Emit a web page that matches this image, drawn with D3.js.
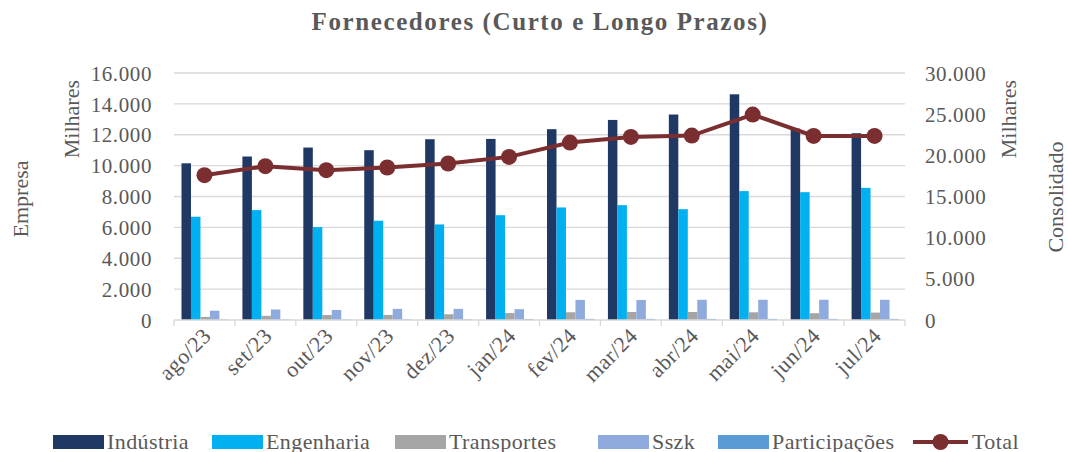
<!DOCTYPE html>
<html>
<head>
<meta charset="utf-8">
<script src="https://cdn.jsdelivr.net/npm/d3@7"></script>
<style>
  body { margin: 0; background: #fff; }
  svg { display: block; font-family: "Liberation Serif", "Times New Roman", serif; }
  .grid line { stroke: #d9d9d9; stroke-width: 1.3; }
  .tick text { fill: #595959; }
</style>
</head>
<body>
<svg id="chart" width="1068" height="452"></svg>
<script>
// Chart data
var months = ["ago/23", "set/23", "out/23", "nov/23", "dez/23", "jan/24",
              "fev/24", "mar/24", "abr/24", "mai/24", "jun/24", "jul/24"];
var industria     = [10150, 10590, 11170, 11000, 11710, 11730, 12360, 12960, 13310, 14620, 12400, 12100];
var engenharia    = [6690, 7120, 6020, 6430, 6190, 6790, 7290, 7440, 7180, 8350, 8280, 8560];
var transportes   = [200, 270, 320, 330, 370, 450, 500, 520, 520, 500, 440, 480];
var sszk          = [600, 680, 650, 720, 720, 700, 1300, 1300, 1310, 1310, 1310, 1310];
var participacoes = [30, 30, 30, 40, 40, 60, 70, 70, 70, 70, 70, 70];
var total         = [17590, 18680, 18200, 18520, 19010, 19810, 21550, 22240, 22400, 24950, 22360, 22360];
var leftTicks  = [0, 2000, 4000, 6000, 8000, 10000, 12000, 14000, 16000];
var rightTicks = [0, 5000, 10000, 15000, 20000, 25000, 30000];

var series = [
    {name: "Indústria", values: industria, color: "#203864"},
    {name: "Engenharia", values: engenharia, color: "#00b0f0"},
    {name: "Transportes", values: transportes, color: "#a5a5a5"},
    {name: "Sszk", values: sszk, color: "#8faadc"},
    {name: "Participações", values: participacoes, color: "#5b9bd5"}
];
var lineColor = "#7b2e30";
var textColor = "#595959";
var serif = "'Liberation Serif', 'Times New Roman', serif";

// Plot area
var plotLeft = 174, plotRight = 905, plotTop = 73, plotBottom = 320;

var svg = d3.select("#chart");

// Brazilian number format
var locale = d3.formatLocale({decimal: ",", thousands: ".", grouping: [3], currency: ["R$", ""]});
var fmt = locale.format(",.0f");

// Scales
var x0 = d3.scaleBand().domain(months).range([plotLeft, plotRight]);
var x1 = d3.scaleBand().domain(series.map(function(s) { return s.name; }))
    .range([7.5, x0.bandwidth() - 6]);
var y = d3.scaleLinear().domain([0, 16000]).range([plotBottom, plotTop]);
var y2 = d3.scaleLinear().domain([0, 30000]).range([plotBottom, plotTop]);

// Gridlines
svg.append("g")
    .attr("class", "grid")
    .selectAll("line")
    .data(leftTicks.slice(1))
    .enter()
    .append("line")
    .attr("x1", plotLeft)
    .attr("x2", plotRight)
    .attr("y1", function(d) { return y(d); })
    .attr("y2", function(d) { return y(d); });

// Left axis
var yAxis = d3.axisLeft(y).tickValues(leftTicks).tickFormat(fmt).tickSize(0).tickPadding(22);
var gy = svg.append("g")
    .attr("transform", "translate(" + plotLeft + ",0)")
    .call(yAxis)
    .attr("font-family", serif);
gy.select(".domain").remove();
gy.selectAll("text").style("font-size", "21px").style("letter-spacing", "0.6px").attr("dy", "0.34em");

// Right axis
var yAxis2 = d3.axisRight(y2).tickValues(rightTicks).tickFormat(fmt).tickSize(0).tickPadding(20);
var gy2 = svg.append("g")
    .attr("transform", "translate(" + plotRight + ",0)")
    .call(yAxis2)
    .attr("font-family", serif);
gy2.select(".domain").remove();
gy2.selectAll("text").style("font-size", "21px").style("letter-spacing", "0.6px").attr("dy", "0.34em");

// Bars
var groups = svg.append("g")
    .selectAll("g")
    .data(months)
    .enter()
    .append("g")
    .attr("transform", function(d) { return "translate(" + x0(d) + ",0)"; });

groups.selectAll("rect")
    .data(function(d, i) {
        return series.map(function(s) { return {name: s.name, value: s.values[i], color: s.color}; });
    })
    .enter()
    .append("rect")
    .attr("x", function(d) { return x1(d.name); })
    .attr("width", x1.bandwidth())
    .attr("y", function(d) { return y(d.value); })
    .attr("height", function(d) { return plotBottom - y(d.value); })
    .attr("fill", function(d) { return d.color; });

// X axis line and category separators
var xAxis = svg.append("g").attr("class", "grid");
xAxis.append("line")
    .attr("x1", plotLeft).attr("x2", plotRight)
    .attr("y1", plotBottom).attr("y2", plotBottom);
xAxis.selectAll(".sep")
    .data(d3.range(months.length + 1))
    .enter()
    .append("line")
    .attr("x1", function(i) { return plotLeft + i * x0.step(); })
    .attr("x2", function(i) { return plotLeft + i * x0.step(); })
    .attr("y1", plotBottom)
    .attr("y2", plotBottom + 6);

// X labels
svg.append("g")
    .selectAll("text")
    .data(months)
    .enter()
    .append("text")
    .attr("transform", function(d) {
        return "translate(" + (x0(d) + x0.bandwidth() / 2 + 8) + "," + (plotBottom + 17) + ") rotate(-45)";
    })
    .attr("text-anchor", "end")
    .attr("fill", textColor)
    .style("font-size", "22px")
    .style("letter-spacing", "0.5px")
    .text(function(d) { return d; });

// Total line
var line = d3.line()
    .x(function(d, i) { return x0(months[i]) + x0.bandwidth() / 2; })
    .y(function(d) { return y2(d); });

svg.append("path")
    .datum(total)
    .attr("d", line)
    .attr("fill", "none")
    .attr("stroke", lineColor)
    .attr("stroke-width", 4);

svg.append("g")
    .selectAll("circle")
    .data(total)
    .enter()
    .append("circle")
    .attr("cx", function(d, i) { return x0(months[i]) + x0.bandwidth() / 2; })
    .attr("cy", function(d) { return y2(d); })
    .attr("r", 8)
    .attr("fill", lineColor);

// Title
svg.append("text")
    .attr("x", 540)
    .attr("y", 30)
    .attr("text-anchor", "middle")
    .attr("fill", textColor)
    .style("font-size", "25px")
    .style("font-weight", "bold")
    .style("letter-spacing", "1.6px")
    .text("Fornecedores (Curto e Longo Prazos)");

// Axis titles
function vText(xp, yp, anchor, txt) {
    svg.append("text")
        .attr("transform", "translate(" + xp + "," + yp + ") rotate(-90)")
        .attr("text-anchor", anchor)
        .attr("fill", textColor)
        .style("font-size", "22px")
        .text(txt);
}
vText(79, 80, "end", "Milhares");
vText(28, 199, "middle", "Empresa");
vText(1016, 80, "end", "Milhares");
vText(1063, 197, "middle", "Consolidado");

// Legend
var legendX = [53, 212, 395, 598, 718];
var legend = svg.append("g");
series.forEach(function(s, i) {
    legend.append("rect")
        .attr("x", legendX[i])
        .attr("y", 435)
        .attr("width", 51)
        .attr("height", 14)
        .attr("fill", s.color);
    legend.append("text")
        .attr("x", legendX[i] + 54)
        .attr("y", 449)
        .attr("fill", textColor)
        .style("font-size", "22px")
        .style("letter-spacing", "0.4px")
        .text(s.name);
});
legend.append("line")
    .attr("x1", 913).attr("x2", 968)
    .attr("y1", 442).attr("y2", 442)
    .attr("stroke", lineColor)
    .attr("stroke-width", 4);
legend.append("circle")
    .attr("cx", 940.5).attr("cy", 442).attr("r", 8)
    .attr("fill", lineColor);
legend.append("text")
    .attr("x", 972)
    .attr("y", 449)
    .attr("fill", textColor)
    .style("font-size", "22px")
    .style("letter-spacing", "0.4px")
    .text("Total");
</script>
</body>
</html>
